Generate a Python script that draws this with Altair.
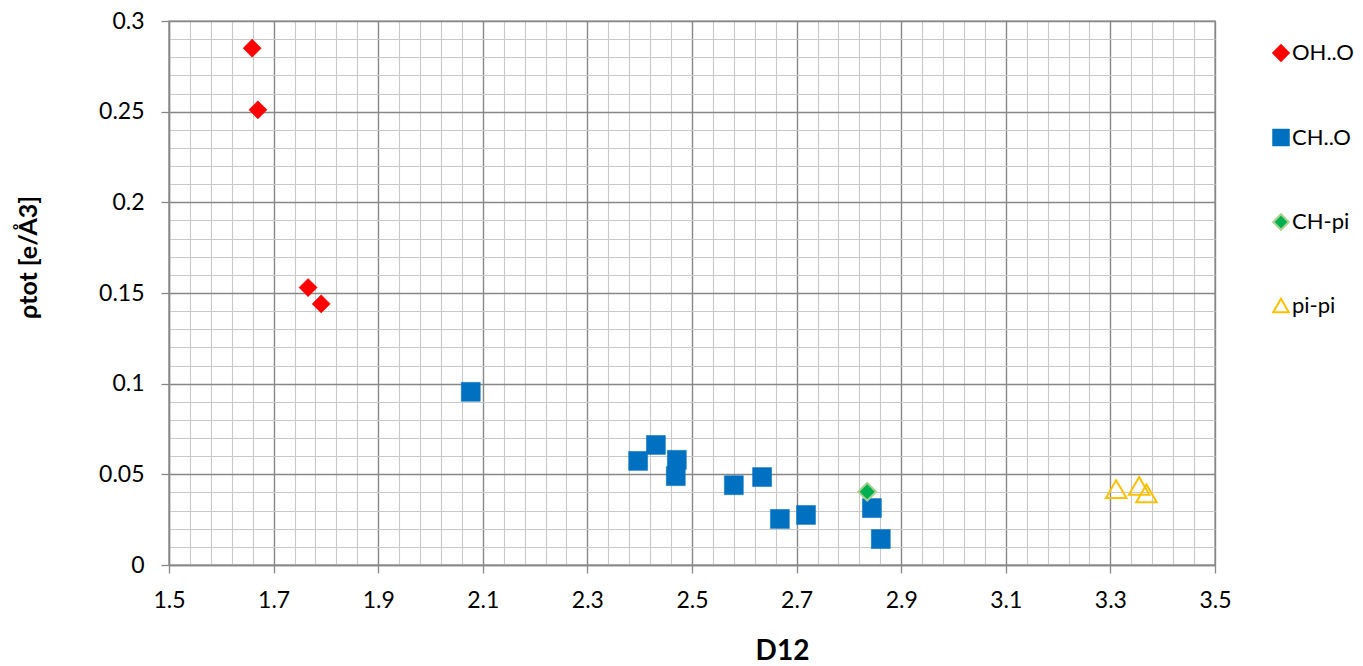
import altair as alt
import pandas as pd

# ---- data ----
series_names = ["OH..O", "CH..O", "CH-pi", "pi-pi"]

oh_x = [1.659, 1.670, 1.766, 1.791]
oh_y = [0.285, 0.251, 0.153, 0.144]

ch_x = [2.077, 2.397, 2.431, 2.471, 2.469, 2.580, 2.634, 2.668, 2.718, 2.844, 2.861]
ch_y = [0.0955, 0.0574, 0.0662, 0.0580, 0.0490, 0.0440, 0.0485, 0.0254, 0.0276, 0.0314, 0.0143]

chpi_x = [2.835]
chpi_y = [0.0404]

pipi_x = [3.311, 3.355, 3.369]
pipi_y = [0.0419, 0.0436, 0.0395]

# axis ticks (minor grid every 0.04 / 0.01, labels on the majors)
x_ticks = [round(1.5 + 0.04 * i, 2) for i in range(51)]
y_ticks = [round(0.01 * i, 2) for i in range(31)]

shapes = ["diamond", "square", "diamond", "triangle-up"]
fills = ["#FF0000", "#0070C0", "#00B050", "transparent"]
strokes = ["#FF0000", "#0070C0", "#A9D18E", "#FFC000"]
sizes = [330, 360, 320, 420]
stroke_widths = [0.5, 0.5, 2, 2]

rows = []
for name, xs, ys in zip(series_names, [oh_x, ch_x, chpi_x, pipi_x], [oh_y, ch_y, chpi_y, pipi_y]):
    for a, b in zip(xs, ys):
        rows.append({"series": name, "x": a, "y": b})
df = pd.DataFrame(rows)

# size / stroke-width scales list the series in reverse order so that their
# (hidden) legends are not merged with the visible shape/fill legend
rev_names = series_names[::-1]
rev_sizes = sizes[::-1]
rev_widths = stroke_widths[::-1]

MAJOR = "#878787"
MINOR = "#C8C8C8"
x_major = "abs((datum.value - 1.5) / 0.2 - round((datum.value - 1.5) / 0.2)) < 0.001"
y_major = "abs(datum.value / 0.05 - round(datum.value / 0.05)) < 0.001"

FONT = "Lato"


def make_legend():
    return alt.Legend(
        title=None,
        orient="none",
        legendX=1101,
        legendY=21,
        padding=0,
        direction="vertical",
        rowPadding=60.5,
        labelFont=FONT,
        labelFontSize=22,
        labelColor="#000000",
        labelOffset=0,
        symbolSize=240,
        symbolStrokeWidth=2,
    )


x_axis = alt.Axis(
    values=x_ticks,
    labelExpr=f"({x_major}) ? toString(datum.value) : ''",
    labelOverlap=False,
    labelFlush=False,
    labelFont=FONT,
    labelFontSize=23,
    labelColor="#000000",
    labelPadding=16,
    gridColor={"condition": {"test": x_major, "value": MAJOR}, "value": MINOR},
    gridWidth={"condition": {"test": x_major, "value": 1.4}, "value": 1.1},
    gridOpacity=1,
    tickOpacity={"condition": {"test": x_major, "value": 1}, "value": 0},
    tickColor=MAJOR,
    tickSize=8,
    tickWidth=1.3,
    domainColor=MAJOR,
    domainWidth=1.4,
    title="D12",
    titleFont=FONT,
    titleFontSize=28,
    titleFontWeight="bold",
    titleColor="#000000",
    titleX=613,
    titleY=86,
    titleAlign="center",
    titleBaseline="middle",
)

y_axis = alt.Axis(
    values=y_ticks,
    labelExpr=f"({y_major}) ? toString(datum.value) : ''",
    labelOverlap=False,
    labelFlush=False,
    labelFont=FONT,
    labelFontSize=23,
    labelColor="#000000",
    labelPadding=17,
    gridColor={"condition": {"test": y_major, "value": MAJOR}, "value": MINOR},
    gridWidth={"condition": {"test": y_major, "value": 1.4}, "value": 1.1},
    gridOpacity=1,
    tickOpacity={"condition": {"test": y_major, "value": 1}, "value": 0},
    tickColor=MAJOR,
    tickSize=8,
    tickWidth=1.3,
    domainColor=MAJOR,
    domainWidth=1.4,
    title="ρtot [e/Å3]",
    titleFont=FONT,
    titleFontSize=25,
    titleFontWeight="bold",
    titleColor="#000000",
    titleAngle=270,
    titleX=-141,
    titleY=236,
    titleAlign="center",
    titleBaseline="middle",
)

chart = (
    alt.Chart(df)
    .mark_point(filled=True, opacity=1)
    .encode(
        x=alt.X("x:Q", scale=alt.Scale(domain=[1.5, 3.5], nice=False, zero=False), axis=x_axis),
        y=alt.Y("y:Q", scale=alt.Scale(domain=[0, 0.3], nice=False, zero=False), axis=y_axis),
        shape=alt.Shape("series:N", scale=alt.Scale(domain=series_names, range=shapes), legend=make_legend()),
        fill=alt.Fill("series:N", scale=alt.Scale(domain=series_names, range=fills), legend=make_legend()),
        stroke=alt.Stroke("series:N", scale=alt.Scale(domain=series_names, range=strokes), legend=None),
        size=alt.Size("series:N", scale=alt.Scale(type="ordinal", domain=rev_names, range=rev_sizes), legend=None),
        strokeWidth=alt.StrokeWidth("series:N", scale=alt.Scale(type="ordinal", domain=rev_names, range=rev_widths), legend=None),
    )
    .properties(
        width=1046,
        height=544,
        autosize=alt.AutoSizeParams(type="none"),
        padding={"left": 161, "top": 13, "right": 140, "bottom": 99},
        background="white",
    )
    .configure_view(stroke=MAJOR, strokeWidth=1.4)
)

chart.save("out.html", embed_options={"renderer": "svg", "actions": False})
